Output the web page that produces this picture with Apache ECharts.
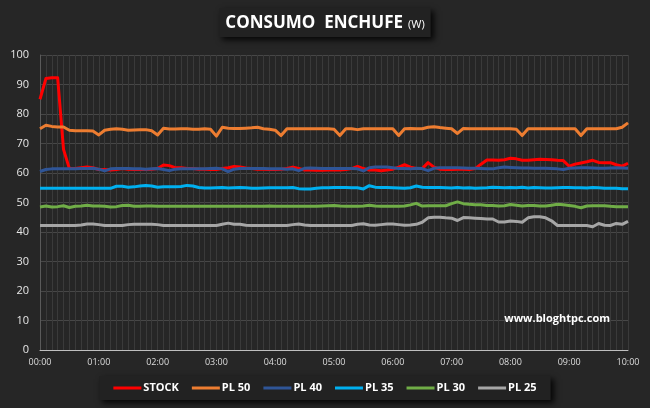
<!DOCTYPE html>
<html>
<head>
<meta charset="utf-8">
<script src="https://cdn.jsdelivr.net/npm/echarts@6/dist/echarts.min.js"></script>
<style>html,body{margin:0;padding:0;background:#262626;}#c{width:650px;height:408px;}</style>
</head>
<body>
<div id="c"></div>
<script>
// time categories every 6 minutes, 00:00 .. 10:00
var categories = [];
for (var h = 0; h <= 10; h++) {
  for (var m = 0; m < 60; m += 6) {
    if (h === 10 && m > 0) break;
    categories.push((h < 10 ? '0' : '') + h + ':' + (m < 10 ? '0' : '') + m);
  }
}
var yTicks = [0,10,20,30,40,50,60,70,80,90,100];

var stock = [85,92,92.3,92.3,68,61.5,61.5,61.8,62,61.8,
  61.2,61.2,61,61.2,61.5,61.3,61.2,61.2,61.2,61.3,
  61.5,62.7,62.5,61.8,61.8,61.5,61.5,61.3,61.3,61.2,
  61.2,61.5,61.8,62.2,62,61.7,61.5,61.3,61.3,61.2,
  61.2,61.3,61.5,62,61.5,61,61,60.9,60.9,61,
  61,61,61.2,61.5,62.2,61.5,61,61,60.8,61,
  61.3,62,62.8,62,61.5,61.5,63.5,62,61.3,61.2,
  61.2,61.3,61.3,61.2,61.5,63,64.4,64.4,64.3,64.5,
  65,64.8,64.3,64.3,64.5,64.7,64.6,64.5,64.3,64.2,
  62.3,63,63.4,63.8,64.3,63.6,63.5,63.5,62.8,62.3,
  63.3];
var pl50 = [75,76.2,75.8,75.6,75.6,74.5,74.3,74.3,74.3,74.2,
  72.9,74.5,74.8,75,74.8,74.5,74.6,74.7,74.7,74.3,
  72.9,75.2,74.9,74.9,75,75,74.8,74.8,75,74.8,
  72.5,75.5,75.2,75.1,75.1,75.2,75.3,75.5,75,74.8,
  74.5,72.7,75,75,75,75,75,75,75,75,
  74.8,72.7,75,75,74.7,75,75,75,75,75,
  75,72.7,75,75.1,75,75,75.5,75.7,75.4,75.2,
  75,73.4,75.1,75,75,75,75,75,75,75,
  75,74.8,72.7,75,75,75,75,75,75,75,
  75,75,72.7,75,75,75,75,75,75,75.5,
  77];
var pl40 = [60.5,61.2,61.4,61.4,61.4,61.4,61.4,61.5,61.5,61.6,
  61.3,60.7,61.4,61.5,61.5,61.5,61.4,61.4,61.3,61.4,
  61.5,61.2,60.8,61.3,61.4,61.4,61.4,61.4,61.4,61.5,
  61.6,61.4,60.5,61.3,61.5,61.5,61.5,61.5,61.5,61.4,
  61.4,61.4,61.3,61.4,60.8,61.6,61.7,61.6,61.5,61.5,
  61.5,61.5,61.5,61.5,61.4,60.7,61.8,62,62,62,
  61.8,61.5,61.5,61.4,61.6,61.5,60.8,61.6,61.8,61.8,
  61.8,61.8,61.7,61.6,61.6,61.5,61.4,61.4,61.8,62,
  61.9,61.8,61.7,61.7,61.6,61.6,61.6,61.5,61.4,61.2,
  61.6,61.7,61.8,61.8,61.7,61.6,61.6,61.7,61.8,61.7,
  61.6];
var pl35 = [54.8,54.8,54.8,54.8,54.8,54.8,54.8,54.8,54.8,54.8,
  54.8,54.8,54.8,55.5,55.5,55.2,55.3,55.6,55.8,55.6,
  55.2,55.3,55.3,55.3,55.4,55.8,55.6,55.1,54.9,54.9,
  55,55.1,54.9,55,55.1,55,54.8,54.8,54.9,55,
  55,55,55,55.1,54.7,54.6,54.6,54.8,55,55,
  55.1,55.1,55.1,55,55,54.6,55.7,55.2,55.1,55.1,
  55,54.9,54.8,55,55.6,55.2,55.1,55.1,55.1,55,
  54.9,55.1,54.9,55,54.8,54.9,55,55.2,55.1,55,
  55.1,55,55.2,54.9,55.1,55,54.9,54.9,55,55.1,
  55.1,55,55,54.9,55.1,55,54.8,54.8,54.8,54.7,
  54.7];
var pl30 = [48.5,48.8,48.5,48.6,48.9,48.3,48.7,48.8,49.1,48.8,
  48.8,48.7,48.5,48.6,49,49.1,48.7,48.7,48.8,48.8,
  48.7,48.7,48.7,48.7,48.7,48.7,48.7,48.7,48.7,48.7,
  48.7,48.7,48.7,48.7,48.7,48.7,48.7,48.7,48.7,48.8,
  48.7,48.7,48.7,48.7,48.7,48.7,48.7,48.7,48.8,48.9,
  49,48.8,48.7,48.7,48.7,48.8,49.1,48.8,48.7,48.7,
  48.7,48.7,48.8,49.2,49.7,48.8,48.9,48.9,48.9,48.9,
  49.6,50.2,49.6,49.4,49.2,49.2,49,49,48.8,48.9,
  49.3,49.1,48.8,49,49,48.8,48.8,49.1,49.4,49.2,
  49,48.7,48.2,48.8,48.9,48.9,48.9,48.7,48.6,48.6,
  48.6];
var pl25 = [42.2,42.2,42.2,42.2,42.2,42.2,42.2,42.4,42.7,42.7,
  42.5,42.2,42.2,42.2,42.2,42.5,42.6,42.6,42.6,42.6,
  42.5,42.2,42.2,42.2,42.2,42.2,42.2,42.2,42.2,42.2,
  42.2,42.6,43,42.6,42.6,42.3,42.2,42.2,42.2,42.2,
  42.2,42.2,42.2,42.5,42.7,42.4,42.2,42.2,42.2,42.2,
  42.2,42.2,42.2,42.2,42.6,42.8,42.4,42.3,42.5,42.7,
  42.7,42.5,42.3,42.4,42.6,43.3,44.8,45,45,44.8,
  44.7,43.9,44.9,44.8,44.7,44.6,44.4,44.4,43.4,43.4,
  43.7,43.6,43.3,44.8,45.2,45.2,44.8,43.8,42.2,42.2,
  42.2,42.2,42.2,42.2,41.8,42.9,42.3,42.2,42.9,42.6,
  43.6];

var seriesNames = ['STOCK','PL 50','PL 40','PL 35','PL 30','PL 25'];
var seriesData = [stock, pl50, pl40, pl35, pl30, pl25];
var colors = ['#FF0000','#ED7D31','#2F5597','#00B0F0','#70AD47','#A6A6A6'];

var chart = echarts.init(document.getElementById('c'), null, {renderer:'canvas'});
var FONT = '"Open Sans", "DejaVu Sans", sans-serif';
chart.setOption({
  backgroundColor: '#262626',
  animation: false,
  title: {
    text: '{a|CONSUMO  ENCHUFE} {b|(W)}',
    left: 'center',
    top: 8,
    padding: [6, 6, 5, 6],
    backgroundColor: '#222222',
    shadowBlur: 6,
    shadowColor: 'rgba(0,0,0,0.85)',
    shadowOffsetX: 3,
    shadowOffsetY: 3,
    textStyle: {
      rich: {
        a: {fontFamily: FONT, fontWeight: 'bold', fontSize: 17, color: '#ffffff'},
        b: {fontFamily: FONT, fontWeight: 'normal', fontSize: 11, color: '#ffffff', padding: [4,0,0,0]}
      }
    }
  },
  legend: {
    bottom: 8,
    left: 'center',
    data: seriesNames,
    icon: 'rect',
    padding: [5, 14, 5, 14],
    itemGap: 13,
    itemWidth: 28,
    itemHeight: 3,
    backgroundColor: '#222222',
    shadowBlur: 6,
    shadowColor: 'rgba(0,0,0,0.85)',
    shadowOffsetX: 3,
    shadowOffsetY: 3,
    textStyle: {color: '#ffffff', fontWeight: 'bold', fontSize: 11, fontFamily: FONT, lineHeight: 14, padding: [0,0,0,-3]}
  },
  grid: {left: 40, right: 22, top: 55, bottom: 58, containLabel: false},
  xAxis: {
    type: 'category',
    data: categories,
    boundaryGap: false,
    axisLine: {show: true, lineStyle: {color: '#BFBFBF', width: 1}},
    axisTick: {show: false},
    axisLabel: {color: '#dddddd', fontSize: 9, fontFamily: FONT, interval: 9, margin: 8},
    splitLine: {show: true, interval: 0, lineStyle: {color: '#3a3a3a', width: 1}}
  },
  yAxis: {
    type: 'value',
    min: yTicks[0],
    max: yTicks[yTicks.length - 1],
    interval: 10,
    axisLine: {show: true, lineStyle: {color: '#5a5a5a'}},
    axisTick: {show: false},
    axisLabel: {color: '#e6e6e6', fontSize: 11, fontFamily: FONT, margin: 11},
    splitLine: {show: true, lineStyle: {color: '#474747', width: 1}}
  },
  graphic: [{
    type: 'text',
    right: 40,
    top: 313,
    z: 100,
    style: {text: 'www.bloghtpc.com', fill: '#ffffff', font: 'bold 11px ' + FONT}
  }],
  series: seriesNames.map(function (n, i) {
    return {
      name: n,
      type: 'line',
      data: seriesData[i],
      symbol: 'none',
      smooth: false,
      itemStyle: {color: colors[i]},
      lineStyle: {color: colors[i], width: 3, join: 'round'}
    };
  })
});
</script>
</body>
</html>
